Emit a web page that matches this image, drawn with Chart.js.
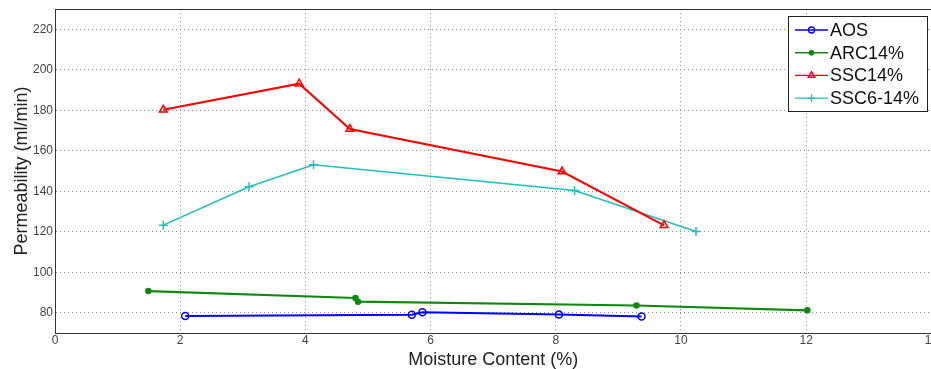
<!DOCTYPE html>
<html><head><meta charset="utf-8">
<script src="https://cdn.jsdelivr.net/npm/chart.js@4"></script>
<style>html,body{margin:0;padding:0;background:#fff;overflow:hidden;width:931px;height:369px}#w{width:940px;height:369px}</style>
</head><body><div id="w"><canvas id="c" width="940" height="369"></canvas></div>
<script>
const xTicks = [0, 2, 4, 6, 8, 10, 12, 14];
const yTicks = [80, 100, 120, 140, 160, 180, 200, 220];
const seriesNames = ['AOS', 'ARC14%', 'SSC14%', 'SSC6-14%'];
const aosX = [2.08, 5.70, 5.87, 8.05, 9.37];
const aosY = [78.4, 79.0, 80.3, 79.2, 78.2];
const arcX = [1.49, 4.80, 4.84, 9.29, 12.02];
const arcY = [90.7, 87.3, 85.5, 83.6, 81.2];
const sscX = [1.73, 3.90, 4.71, 8.10, 9.73];
const sscY = [180.3, 193.2, 170.8, 149.8, 123.2];
const ssc6X = [1.73, 3.10, 4.13, 8.30, 10.24];
const ssc6Y = [123.3, 142.3, 153.1, 140.4, 120.2];

const pts = (xs, ys) => xs.map((x, i) => ({x, y: ys[i]}));
const colors = ['#0000ff', '#118811', '#ff0000', '#22bdbd'];
const styles = [
  {pointStyle:'circle', pointRadius:3.5, fill:false, bw:2},
  {pointStyle:'circle', pointRadius:2.5, fill:true, bw:2.2},
  {pointStyle:'triangle', pointRadius:4.5, fill:false, bw:2},
  {pointStyle:'cross', pointRadius:4.5, fill:false, bw:1.6}
];
const data = [pts(aosX, aosY), pts(arcX, arcY), pts(sscX, sscY), pts(ssc6X, ssc6Y)];
const FONT = '"Liberation Sans", Arial, sans-serif';

const datasets = data.map((d, i) => ({
  label: seriesNames[i],
  data: d,
  showLine: true,
  borderColor: colors[i],
  backgroundColor: styles[i].fill ? colors[i] : 'rgba(0,0,0,0)',
  borderWidth: styles[i].bw,
  pointStyle: styles[i].pointStyle,
  pointRadius: styles[i].pointRadius,
  pointBorderWidth: 1.5,
  pointBorderColor: colors[i],
  pointBackgroundColor: styles[i].fill ? colors[i] : 'rgba(0,0,0,0)',
  tension: 0
}));

const boxPlugin = {
  id: 'box',
  afterDraw(chart) {
    const {ctx, chartArea: a} = chart;
    ctx.save();
    ctx.setLineDash([]);
    ctx.strokeStyle = '#333';
    ctx.lineWidth = 1;
    ctx.strokeRect(Math.round(a.left) + 0.5, Math.round(a.top) + 0.5, Math.round(a.right - a.left), Math.round(a.bottom - a.top));
    // legend
    const lx = 788.5, ly = 16.5, lw = 139, lh = 95;
    ctx.fillStyle = '#fff';
    ctx.fillRect(lx, ly, lw, lh);
    ctx.strokeStyle = '#222';
    ctx.strokeRect(lx, ly, lw, lh);
    ctx.font = '18px ' + FONT;
    ctx.textBaseline = 'middle';
    chart.data.datasets.forEach((ds, i) => {
      const y = 30 + i * 22.7;
      ctx.strokeStyle = ds.borderColor;
      ctx.lineWidth = 1.4;
      ctx.beginPath(); ctx.moveTo(795, y); ctx.lineTo(828, y); ctx.stroke();
      ctx.fillStyle = ds.pointBackgroundColor;
      ctx.strokeStyle = ds.borderColor;
      Chart.helpers.drawPoint(ctx, {pointStyle: ds.pointStyle, radius: ds.pointRadius * 0.85, borderWidth: 1.3}, 811.5, y);
      ctx.fillStyle = '#111';
      ctx.fillText(ds.label, 830, y + 1);
    });
    ctx.restore();
  }
};

new Chart(document.getElementById('c'), {
  type: 'scatter',
  data: {datasets},
  options: {
    responsive: false,
    animation: false,
    layout: {padding: {top: 0, left: 13, right: 0, bottom: 0}},
    plugins: {legend: {display: false}, tooltip: {enabled: false}},
    scales: {
      x: {
        type: 'linear', min: 0, max: 14,
        afterBuildTicks: s => { s.ticks = xTicks.map(v => ({value: v})); },
        grid: {color: '#8a8a8a', lineWidth: 1, drawTicks: false},
        border: {display: true, color: '#333', dash: [1, 3]},
        ticks: {color: '#444', font: {size: 12, family: FONT, lineHeight: 1.0}, padding: 2, maxRotation: 0},
        title: {display: true, text: 'Moisture Content (%)', color: '#222', font: {size: 18, family: FONT, lineHeight: 1.0}, padding: {top: 2, bottom: 0}}
      },
      y: {
        type: 'linear', min: 70, max: 230,
        afterBuildTicks: s => { s.ticks = yTicks.map(v => ({value: v})); },
        grid: {color: '#8a8a8a', lineWidth: 1, drawTicks: false},
        border: {display: true, color: '#333', dash: [1, 3]},
        ticks: {color: '#444', font: {size: 12, family: FONT}, padding: 2},
        title: {display: true, text: 'Permeability (ml/min)', color: '#222', font: {size: 18, family: FONT, lineHeight: 1.0}, padding: {top: 0, bottom: 0}}
      }
    }
  },
  plugins: [boxPlugin]
});
</script></body></html>
